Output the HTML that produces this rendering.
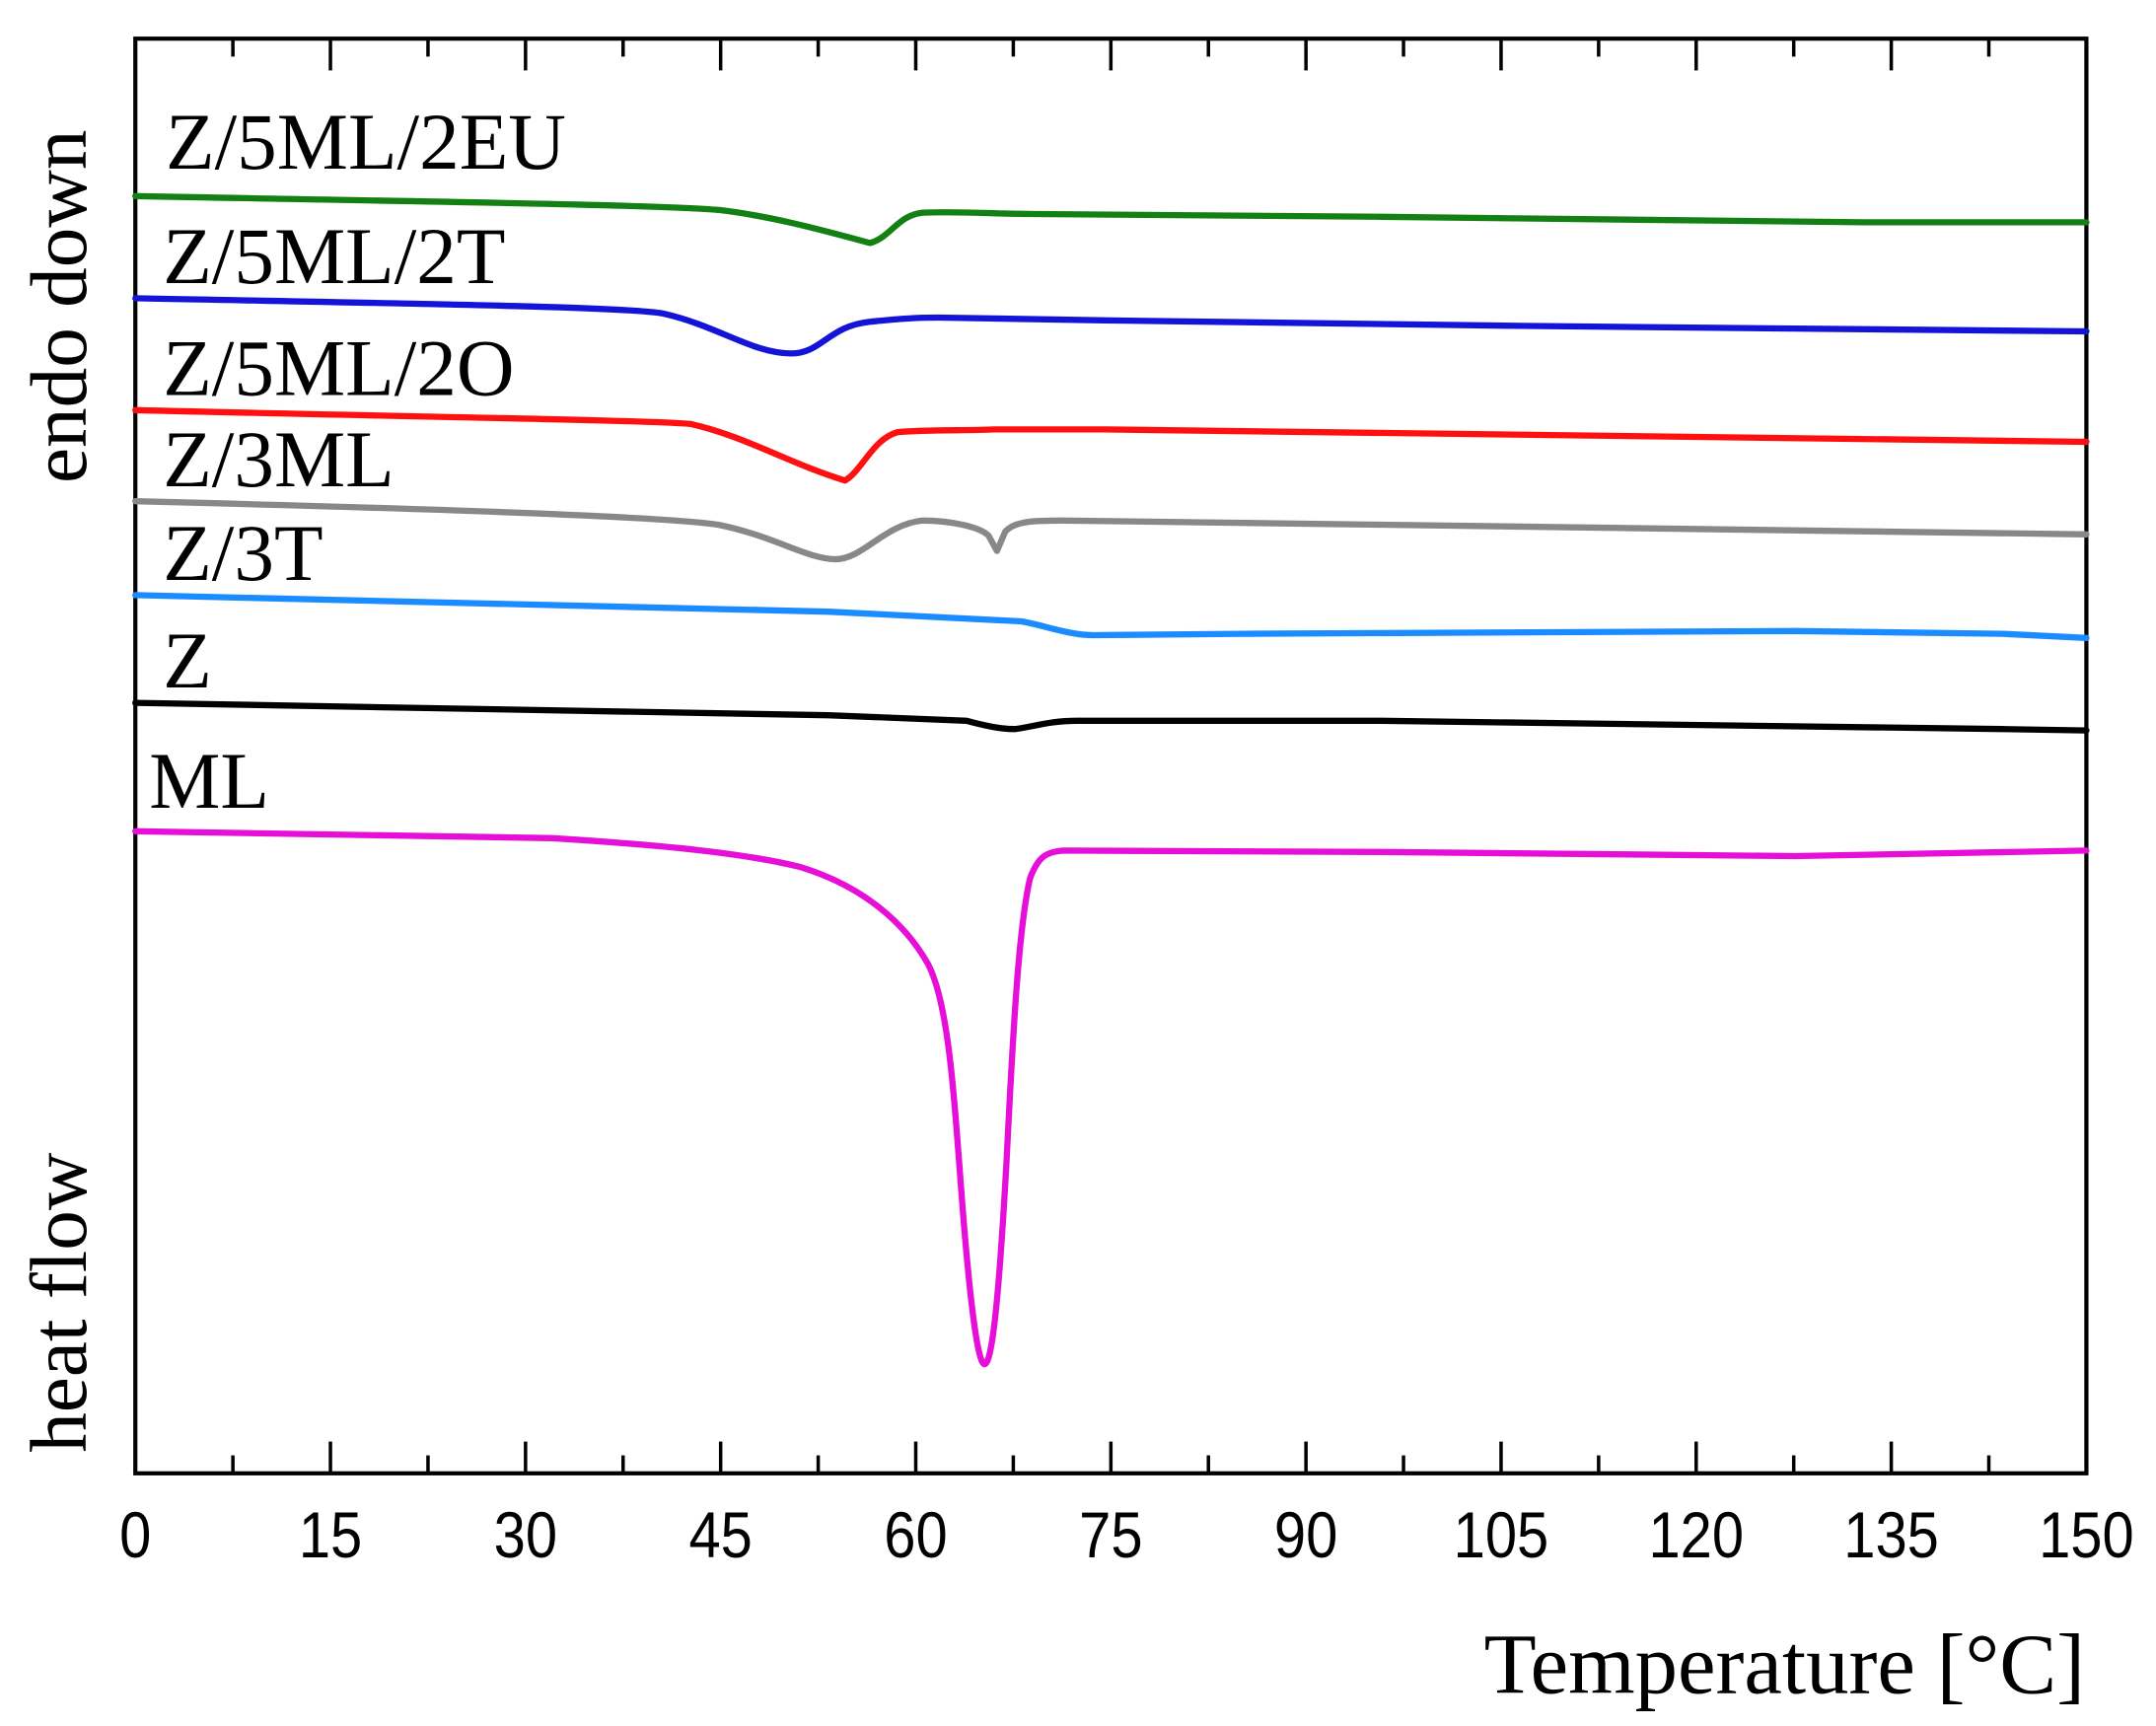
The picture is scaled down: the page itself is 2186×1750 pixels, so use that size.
<!DOCTYPE html>
<html><head><meta charset="utf-8"><style>
html,body{margin:0;padding:0;background:#fff;}
svg{display:block;}
.lab{font-family:"Liberation Serif",serif;font-size:58px;fill:#000;}
.tk{font-family:"Liberation Sans",sans-serif;font-size:47px;fill:#000;}
path.c{fill:none;stroke-width:4.5;stroke-linejoin:round;stroke-linecap:round;}
</style></head><body>
<svg width="2186" height="1750" viewBox="0 0 1561.4 1250" xmlns="http://www.w3.org/2000/svg">
<rect x="0" y="0" width="1561.4" height="1250" fill="#fff"/>
<g stroke="#000" stroke-width="3">
<rect x="98" y="28" width="1413" height="1039" fill="none"/>
</g>
<g id="ticks" stroke="#000" stroke-width="2.5"></g>
<g id="tl"></g>
<path class="c" stroke="#128012" d="M98,142 C300,146 470,148 520,152 C555,156 590,165 630,176 C645,172 650,156 668,154 C700,153 720,155 750,155 L1000,157 L1350,161 L1511,161"/>
<path class="c" stroke="#1414d8" d="M98,216 C300,220 450,222 480,227 C520,236 545,256 573,256 C595,256 600,236 630,233 C660,230 670,230 680,230 L800,232 L1100,236 L1511,240"/>
<path class="c" stroke="#ff1010" d="M98,297 C300,302 460,304 500,307 C540,316 570,335 612,348 C625,340 632,318 650,313 C670,311 700,312 720,311 L800,311 L1511,320"/>
<path class="c" stroke="#888" d="M98,363 C300,368 480,374 520,380 C560,388 585,405 605,405 C625,405 640,380 668,377 C690,377 710,382 716,388 L722,399 L728,385 C735,377 750,377 770,377 L1000,380 L1511,387"/>
<path class="c" stroke="#1a8cff" d="M98,431 L600,443 L740,450 C760,454 775,460 792,460 L900,459 L1300,457 L1450,459 L1511,462"/>
<path class="c" stroke="#000" d="M98,509 L600,518 L700,522 C715,526 725,528 735,528 C750,526 760,522 780,522 L1000,522 L1450,528 L1511,529"/>
<path class="c" stroke="#e60fd8" d="M98,602 L400,607 C480,612 540,618 580,628 C625,642 655,668 672,698 C686,725 690,780 696,860 C702,940 708,988 713,988 C719,988 724,930 729,840 C734,740 738,670 746,636 C752,620 758,617 770,616 L1000,617 L1300,620 L1511,616"/>
<text class="lab" x="120" y="122">Z/5ML/2EU</text>
<text class="lab" x="118" y="205">Z/5ML/2T</text>
<text class="lab" x="118" y="286">Z/5ML/2O</text>
<text class="lab" x="118" y="352">Z/3ML</text>
<text class="lab" x="118" y="420">Z/3T</text>
<text class="lab" x="118" y="498">Z</text>
<text class="lab" x="108" y="585">ML</text>
<text class="lab" transform="translate(62,350) rotate(-90)">endo down</text>
<text class="lab" transform="translate(62,1052) rotate(-90)">heat flow</text>
<text class="lab" x="1510" y="1226" text-anchor="end" style="font-size:62px">Temperature [°C]</text>
</svg>
<script>
var ns="http://www.w3.org/2000/svg",t=document.getElementById("ticks"),tl=document.getElementById("tl");
for(var i=0;i<=20;i++){var x=98+i*1413/20,L=(i%2==0)?23:13;
[[1067,1067-L],[28,28+L]].forEach(function(p){var l=document.createElementNS(ns,"line");l.setAttribute("x1",x);l.setAttribute("x2",x);l.setAttribute("y1",p[0]);l.setAttribute("y2",p[1]);t.appendChild(l);});
if(i%2==0){var s=document.createElementNS(ns,"text");s.setAttribute("class","tk");s.setAttribute("x",x);s.setAttribute("y",1128);s.setAttribute("text-anchor","middle");s.setAttribute("transform","translate("+x+",0) scale(0.88,1) translate("+(-x)+",0)");s.textContent=(i*7.5);tl.appendChild(s);}}
</script>
</body></html>
